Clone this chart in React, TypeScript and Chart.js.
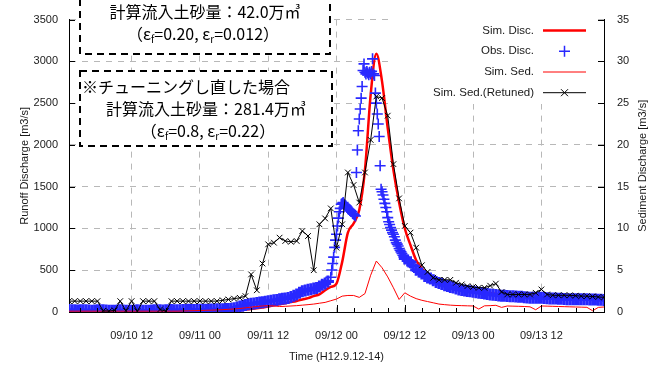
import React, { useEffect, useRef } from "react";
import { Chart, registerables } from "chart.js";

Chart.register(...registerables);

// time axis: hours counted from 09/10 00:00
const START_HOUR = 1;
const X_MIN = 1;
const X_MAX = 95;
const tickHours = [12, 24, 36, 48, 60, 72, 84];
const tickLabels = ["09/10 12", "09/11 00", "09/11 12", "09/12 00", "09/12 12", "09/13 00", "09/13 12"];

// hourly simulated discharge [m3/s] (left axis), from 09/10 01:00
const simDisc = [
  15, 15, 15, 15, 15, 15, 15, 15, 15, 15, 15, 15, 15, 15, 15, 15, 15, 15, 15, 15,
  15, 15, 15, 15, 15, 15, 15, 15, 16, 18, 22, 28, 35, 45, 55, 65, 80, 93, 105, 118,
  132, 150, 166, 190, 210, 260, 300, 340, 600, 950, 1060, 1220, 1700, 2600, 3090, 2760, 2200, 1700, 1310, 1000,
  800, 620, 520, 450, 395, 355, 335, 315, 298, 282, 268, 255, 245, 236, 228, 220, 214, 208, 202, 197,
  192, 188, 184, 180, 177, 174, 171, 168, 165, 162, 160, 158, 156, 154, 152,
];

// hourly simulated sediment discharge [m3/s] (right axis)
const simSed = [
  0.1, 0.1, 0.1, 0.1, 0.1, 0.1, 0.1, 0.1, 0.1, 0.1, 0.1, 0.1, 0.1, 0.1, 0.1, 0.1, 0.1, 0.1, 0.1, 0.1,
  0.12, 0.14, 0.16, 0.18, 0.2, 0.22, 0.25, 0.28, 0.32, 0.36, 0.42, 0.5, 0.58, 0.66, 0.72, 0.76, 0.72, 0.66, 0.68, 0.72,
  0.76, 0.82, 0.88, 0.95, 1.05, 1.15, 1.35, 1.55, 1.9, 1.98, 1.98, 1.75, 2.2, 4.4, 6.1, 5.3, 4.2, 2.9, 1.5, 2.3,
  1.9, 1.6, 1.4, 1.25, 1.1, 0.95, 0.88, 0.82, 0.78, 0.76, 0.74, 0.72, 0.35, 0.74, 0.76, 0.8, 0.55, 0.72, 0.7, 0.68,
  0.66, 0.62, 0.27, 0.72, 0.7, 0.68, 0.66, 0.64, 0.62, 0.6, 0.58, 0.56, 0.15, 0.55, 0.6,
];

// hourly re-tuned simulated sediment discharge [m3/s] (right axis)
const simSedRetuned = [
  1.3, 1.3, 1.3, 1.3, 1.3, 1.3, 0.15, 0.1, 0.2, 1.3, 0.15, 1.3, 0.1, 1.3, 1.3, 1.3, 0.3, 0.1, 1.3, 1.3,
  1.3, 1.3, 1.3, 1.3, 1.3, 1.3, 1.3, 1.4, 1.5, 1.6, 1.7, 1.9, 4.5, 2.6, 5.8, 8.1, 8.3, 8.9, 8.5, 8.4,
  8.5, 9.7, 9.1, 5.0, 10.5, 11.2, 12.4, 7.7, 10.5, 16.7, 15.2, 13.1, 16.7, 20.6, 25.8, 25.6, 23.5, 17.7, 13.6, 10.3,
  9.5, 7.7, 5.6, 4.8, 4.1, 3.85, 3.85, 3.85, 3.5, 3.3, 3.1, 3.0, 2.9, 2.9, 3.15, 3.4, 2.4, 2.1, 2.1, 2.1,
  2.1, 2.1, 2.3, 2.7, 2.1, 2.0, 2.0, 2.0, 2.0, 1.95, 1.9, 1.9, 1.85, 1.8, 1.75,
];

// observed discharge [m3/s]: 30-min values from 09/10 01:00
const obsEarly = [
  25, 22, 20, 18, 20, 22, 20, 18, 16, 18,
  20, 22, 20, 18, 16, 15, 16, 18, 20, 18,
  16, 15, 16, 18, 20, 18, 16, 15, 16, 18,
  20, 22, 20, 18, 20, 22, 24, 22, 20, 22,
  24, 25, 26, 25, 24, 26, 28, 27, 26, 28,
  30, 30, 32, 33, 34, 35, 36, 40, 45, 55,
  66, 75, 85, 93, 98, 103, 108, 113, 118, 124,
  130, 135, 140, 145, 152, 158, 163, 168, 180, 195,
  210, 230, 249, 258, 265, 272, 280, 288, 305, 325,
  340, 365,
];
// observed discharge: 10-min values from 09/11 23:00
const obsPeak = [
  416, 502, 580, 657, 774, 860,
  930, 1030, 1124, 1200, 1240, 1290,
  1300, 1310, 1290, 1280, 1270, 1250,
  1240, 1230, 1220, 1210, 1200, 1180,
  1170, 1160, 1150, 1670, 1940, 2170,
  2310, 2430, 2560, 2700, 2890, 2970,
  2870, 2850, 2880, 2860, 2840, 2870,
  2850, 2880, 3030, 2850, 2830, 2620,
  2500, 2370, 2250, 2100, 1750, 1470,
  1440, 1400, 1350, 1300, 1250, 1200,
  1130, 1080, 1047, 1010, 980, 950,
  930, 900, 860, 830, 813, 790,
  760, 740, 720, 700, 680, 660,
];
// observed discharge: 30-min values from 09/12 12:00
const obsLate = [
  640, 615, 595, 550, 505, 485, 460, 430, 412, 400,
  380, 360, 346, 335, 320, 310, 300, 292, 280, 270,
  262, 258, 252, 248, 242, 236, 230, 226, 220, 214,
  210, 206, 202, 198, 196, 194, 192, 190, 188, 186,
  184, 182, 178, 175, 172, 171, 171, 171, 170, 168,
  165, 163, 162, 161, 160, 158, 156, 154, 152, 152,
  152, 152, 152, 152, 152, 151, 150, 150, 148, 146,
  144,
];
const OBS_EARLY_START = 1;
const OBS_PEAK_START = 47;
const OBS_LATE_START = 60;

const legendItems = ["Sim. Disc.", "Obs. Disc.", "Sim. Sed.", "Sim. Sed.(Retuned)"];

const RED = "#ff0000";
const BLUE = "rgb(40,40,255)";
const GRID = "#b8b8b8";
const TEXT = "#1a1a1a";
const SANS = '"Liberation Sans", Arial, sans-serif';
const JP = '"Noto Sans CJK JP", sans-serif';

type Run = { t: string; sub?: boolean };

function drawRich(ctx: CanvasRenderingContext2D, runs: Run[], x: number, y: number, align: "center" | "left") {
  const big = `16px ${JP}`;
  const small = `10px ${JP}`;
  const widths = runs.map((r) => {
    ctx.font = r.sub ? small : big;
    return ctx.measureText(r.t).width;
  });
  const total = widths.reduce((a, b) => a + b, 0);
  let cx = align === "center" ? x - total / 2 : x;
  ctx.textAlign = "left";
  ctx.textBaseline = "middle";
  runs.forEach((r, i) => {
    ctx.font = r.sub ? small : big;
    ctx.fillText(r.t, cx, r.sub ? y + 5 : y);
    cx += widths[i];
  });
}

const decoPlugin = {
  id: "deco",
  afterDraw(chart: any) {
    const ctx: CanvasRenderingContext2D = chart.ctx;
    const { left, right, bottom, top } = chart.chartArea;
    const xs = chart.scales.x;
    const ys = chart.scales.y;
    const y2 = chart.scales.y1;
    ctx.save();

    // inward tick marks
    ctx.strokeStyle = "#000";
    ctx.lineWidth = 1;
    ctx.setLineDash([]);
    ctx.beginPath();
    for (let h = Math.ceil(X_MIN / 3) * 3; h <= X_MAX; h += 3) {
      const px = Math.round(xs.getPixelForValue(h)) + 0.5;
      const len = h % 12 === 0 ? 7 : 4;
      ctx.moveTo(px, bottom);
      ctx.lineTo(px, bottom - len);
    }
    ys.ticks.forEach((t: any) => {
      const py = Math.round(ys.getPixelForValue(t.value)) + 0.5;
      ctx.moveTo(left, py);
      ctx.lineTo(left + 6, py);
    });
    y2.ticks.forEach((t: any) => {
      const py = Math.round(y2.getPixelForValue(t.value)) + 0.5;
      ctx.moveTo(right, py);
      ctx.lineTo(right - 6, py);
    });
    ctx.stroke();

    // axis titles
    ctx.fillStyle = TEXT;
    ctx.font = `11px ${SANS}`;
    ctx.textAlign = "center";
    ctx.textBaseline = "middle";
    ctx.fillText("Time (H12.9.12-14)", (left + right) / 2, 357);
    const midY = (top + bottom) / 2;
    ctx.save();
    ctx.translate(25, midY);
    ctx.rotate(-Math.PI / 2);
    ctx.fillText("Runoff Discharge [m3/s]", 0, 0);
    ctx.restore();
    ctx.save();
    ctx.translate(643, midY);
    ctx.rotate(-Math.PI / 2);
    ctx.fillText("Sediment Discharge [m3/s]", 0, 0);
    ctx.restore();

    // legend (opaque key)
    ctx.fillStyle = "#fff";
    ctx.fillRect(393, 15, 203, 89);
    const textRight = right - 70;
    const s1 = right - 61;
    const s2 = right - 18;
    const sc = (s1 + s2) / 2;
    legendItems.forEach((label, i) => {
      const ly = 30.6 + i * 20.7;
      ctx.fillStyle = TEXT;
      ctx.font = `11.5px ${SANS}`;
      ctx.textAlign = "right";
      ctx.textBaseline = "middle";
      ctx.fillText(label, textRight, ly);
      ctx.beginPath();
      if (i === 0) {
        ctx.strokeStyle = RED;
        ctx.lineWidth = 2.5;
        ctx.moveTo(s1, ly);
        ctx.lineTo(s2, ly);
      } else if (i === 1) {
        ctx.strokeStyle = BLUE;
        ctx.lineWidth = 1.5;
        ctx.moveTo(sc - 5.5, ly);
        ctx.lineTo(sc + 5.5, ly);
        ctx.moveTo(sc, ly - 5.5);
        ctx.lineTo(sc, ly + 5.5);
      } else if (i === 2) {
        ctx.strokeStyle = RED;
        ctx.lineWidth = 1;
        ctx.moveTo(s1, ly);
        ctx.lineTo(s2, ly);
      } else {
        ctx.strokeStyle = "#000";
        ctx.lineWidth = 1;
        ctx.moveTo(s1, ly);
        ctx.lineTo(s2, ly);
        ctx.moveTo(sc - 3.5, ly - 3.5);
        ctx.lineTo(sc + 3.5, ly + 3.5);
        ctx.moveTo(sc + 3.5, ly - 3.5);
        ctx.lineTo(sc - 3.5, ly + 3.5);
      }
      ctx.stroke();
    });

    // annotation boxes
    ctx.lineWidth = 2;
    ctx.setLineDash([7, 5]);
    ctx.strokeStyle = "#000";
    ctx.fillStyle = "#fff";
    ctx.fillRect(80, -10, 250, 64);
    ctx.strokeRect(80, -10, 250, 64);
    ctx.fillRect(80, 71, 252, 75);
    ctx.strokeRect(80, 71, 252, 75);
    ctx.setLineDash([]);
    ctx.fillStyle = "#000";
    drawRich(ctx, [{ t: "計算流入土砂量：42.0万㎥" }], 205, 12, "center");
    drawRich(ctx, [{ t: "（ε" }, { t: "f", sub: true }, { t: "=0.20, ε" }, { t: "r", sub: true }, { t: "=0.012）" }], 203, 34, "center");
    drawRich(ctx, [{ t: "※チューニングし直した場合" }], 82, 87, "left");
    drawRich(ctx, [{ t: "計算流入土砂量：281.4万㎥" }], 206, 109, "center");
    drawRich(ctx, [{ t: "（ε" }, { t: "f", sub: true }, { t: "=0.8, ε" }, { t: "r", sub: true }, { t: "=0.22）" }], 208, 131, "center");

    ctx.restore();
  },
};

export default function App() {
  const ref = useRef<HTMLCanvasElement | null>(null);
  useEffect(() => {
    document.body.style.margin = "0";
    if (!ref.current) return;
    const hourly = (arr: number[]) => arr.map((v, i) => ({ x: START_HOUR + i, y: v }));
    const obsPoints = [
      ...obsEarly.map((v, i) => ({ x: OBS_EARLY_START + i * 0.5, y: v, dense: false })),
      ...obsPeak.map((v, i) => ({ x: OBS_PEAK_START + i / 6, y: v, dense: true })),
      ...obsLate.map((v, i) => ({ x: OBS_LATE_START + i * 0.5, y: v, dense: false })),
    ];
    const tickFont = { family: SANS, size: 11 };
    const plain = (v: any) => String(v);
    const chart = new Chart(ref.current, {
      type: "line",
      data: {
        datasets: [
          {
            label: "Sim. Sed.(Retuned)",
            data: hourly(simSedRetuned),
            yAxisID: "y1",
            borderColor: "#000",
            borderWidth: 1,
            pointStyle: "crossRot",
            pointRadius: 4,
            pointBorderColor: "#000",
            pointBorderWidth: 1,
            order: 0,
          },
          {
            label: "Sim. Sed.",
            data: hourly(simSed),
            yAxisID: "y1",
            borderColor: RED,
            borderWidth: 1,
            pointRadius: 0,
            order: 1,
          },
          {
            label: "Obs. Disc.",
            data: obsPoints,
            yAxisID: "y",
            showLine: false,
            pointStyle: "cross",
            pointRadius: (c: any) => (c.raw && c.raw.dense ? 5.5 : 6),
            pointBorderColor: BLUE,
            pointBorderWidth: (c: any) => (c.raw && c.raw.dense ? 1.6 : 3),
            order: 2,
          },
          {
            label: "Sim. Disc.",
            data: hourly(simDisc),
            yAxisID: "y",
            borderColor: RED,
            borderWidth: 2.5,
            pointRadius: 0,
            cubicInterpolationMode: "monotone",
            order: 3,
          },
        ],
      },
      options: {
        animation: false,
        responsive: false,
        maintainAspectRatio: false,
        layout: { padding: { top: 12, left: 0, right: 0, bottom: 0 } },
        plugins: { legend: { display: false }, tooltip: { enabled: false } },
        scales: {
          x: {
            type: "linear",
            min: X_MIN,
            max: X_MAX,
            afterFit: (s: any) => {
              s.height = 55;
            },
            afterBuildTicks: (s: any) => {
              s.ticks = tickHours.map((v) => ({ value: v }));
            },
            ticks: {
              callback: (_v: any, i: number) => tickLabels[i],
              font: tickFont,
              color: TEXT,
              padding: 17,
              maxRotation: 0,
              autoSkip: false,
            },
            grid: { color: GRID, lineWidth: 1, drawTicks: false },
            border: { color: "#000", width: 1, dash: [6, 6] },
          },
          y: {
            position: "left",
            min: 0,
            max: 3500,
            afterFit: (s: any) => {
              s.width = 69;
            },
            ticks: { stepSize: 500, font: tickFont, color: TEXT, padding: 11, callback: plain },
            grid: { color: GRID, lineWidth: 1, drawTicks: false },
            border: { color: "#000", width: 1, dash: [6, 6] },
          },
          y1: {
            position: "right",
            min: 0,
            max: 35,
            afterFit: (s: any) => {
              s.width = 49;
            },
            ticks: { stepSize: 5, font: tickFont, color: TEXT, padding: 13, callback: plain },
            grid: { drawOnChartArea: false, drawTicks: false },
            border: { color: "#000", width: 1 },
          },
        },
      },
      plugins: [decoPlugin],
    } as any);
    return () => chart.destroy();
  }, []);
  return <canvas ref={ref} width={653} height={367} style={{ display: "block" }} />;
}
